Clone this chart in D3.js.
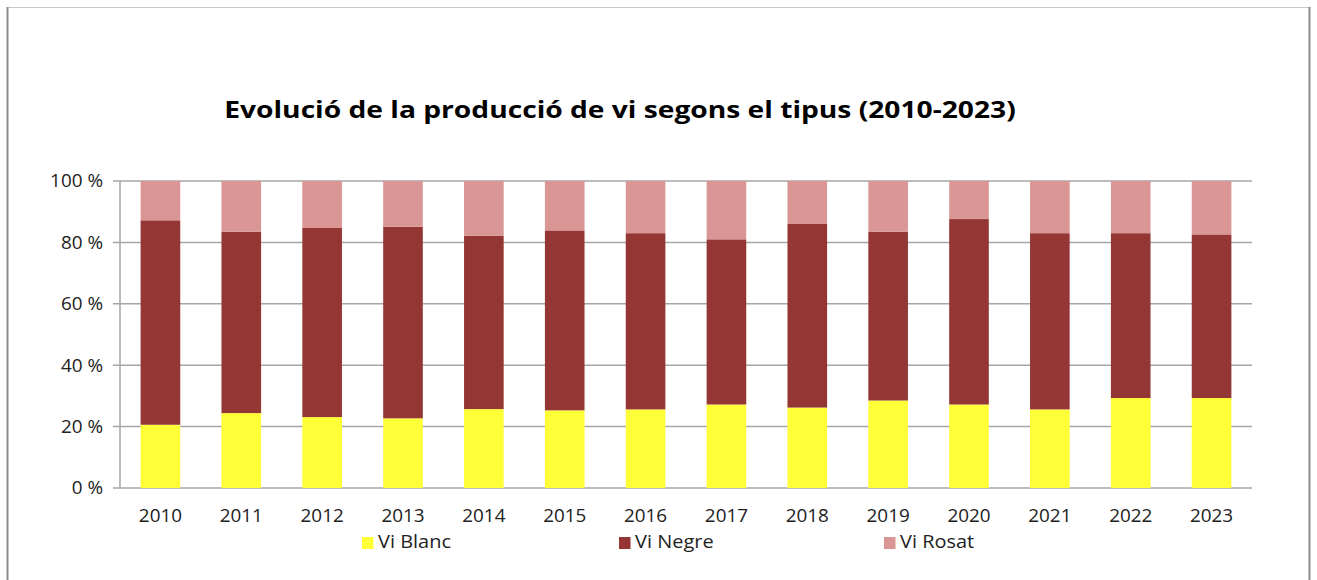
<!DOCTYPE html>
<html>
<head>
<meta charset="utf-8">
<script src="https://cdn.jsdelivr.net/npm/d3@7"></script>
<style>
  body { margin: 0; background: #fff; }
  svg text { font-family: "Open Sans", "Noto Sans", sans-serif; fill: #222; }
</style>
</head>
<body>
<div id="chart"></div>
<script>
const years = ["2010", "2011", "2012", "2013", "2014", "2015", "2016", "2017", "2018", "2019", "2020", "2021", "2022", "2023"];
const viBlanc = [20.6, 24.4, 23.1, 22.7, 25.7, 25.3, 25.6, 27.2, 26.2, 28.5, 27.2, 25.6, 29.3, 29.3];
const viNegre = [66.6, 59.1, 61.6, 62.4, 56.5, 58.6, 57.4, 53.8, 59.8, 55.0, 60.4, 57.4, 53.7, 53.3];
const viRosat = [12.8, 16.5, 15.3, 14.9, 17.8, 16.1, 17.0, 19.0, 14.0, 16.5, 12.4, 17.0, 17.0, 17.4];
const seriesNames = ["Vi Blanc", "Vi Negre", "Vi Rosat"];
const yTicks = [0, 20, 40, 60, 80, 100];

const colors = { "Vi Blanc": "#ffff38", "Vi Negre": "#943634", "Vi Rosat": "#d99694" };

const W = 1317, H = 580;
const margin = { top: 181, right: 65, bottom: 92, left: 120 };
const width = W - margin.left - margin.right;
const height = H - margin.top - margin.bottom;

// the source text is a bit wider than Open Sans, so stretch it sideways
const stretch = (x, y, s) => `translate(${x},${y}) scale(${s},1)`;

const svg = d3.select("#chart").append("svg")
  .attr("width", W)
  .attr("height", H);

// outer frame
svg.append("line").attr("x1", 7).attr("x2", 1310).attr("y1", 7.5).attr("y2", 7.5)
  .attr("stroke", "#c8c8c8").attr("stroke-width", 1);
svg.append("line").attr("x1", 7.5).attr("x2", 7.5).attr("y1", 7).attr("y2", H)
  .attr("stroke", "#8c8c8c").attr("stroke-width", 2);
svg.append("line").attr("x1", 1309.5).attr("x2", 1309.5).attr("y1", 7).attr("y2", H)
  .attr("stroke", "#8c8c8c").attr("stroke-width", 2);

svg.append("text")
  .attr("transform", stretch(620, 118, 1.2))
  .attr("text-anchor", "middle")
  .style("font-size", "23.5px")
  .style("font-weight", "bold")
  .style("fill", "#000")
  .text("Evolució de la producció de vi segons el tipus (2010-2023)");

const g = svg.append("g").attr("transform", `translate(${margin.left},${margin.top})`);

const data = years.map((y, i) => ({ year: y, "Vi Blanc": viBlanc[i], "Vi Negre": viNegre[i], "Vi Rosat": viRosat[i] }));
const stacked = d3.stack().keys(seriesNames)(data);

const x = d3.scaleBand().domain(years).range([0, width]).paddingInner(0.51).paddingOuter(0.255);
const y = d3.scaleLinear().domain([0, 100]).range([height, 0]);

// gridlines + left ticks
g.append("g")
  .selectAll("line")
  .data(yTicks)
  .join("line")
  .attr("x1", -7)
  .attr("x2", width)
  .attr("y1", d => y(d))
  .attr("y2", d => y(d))
  .attr("stroke", "#a6a6a6")
  .attr("stroke-width", 1.5);

g.append("g")
  .selectAll("g")
  .data(stacked)
  .join("g")
  .attr("fill", d => colors[d.key])
  .selectAll("rect")
  .data(d => d)
  .join("rect")
  .attr("x", d => x(d.data.year))
  .attr("y", d => y(d[1]))
  .attr("width", x.bandwidth())
  .attr("height", d => y(d[0]) - y(d[1]));

// y axis line
g.append("line")
  .attr("x1", 0).attr("x2", 0)
  .attr("y1", 0).attr("y2", height)
  .attr("stroke", "#a6a6a6")
  .attr("stroke-width", 1.5);

g.append("g")
  .selectAll("text")
  .data(yTicks)
  .join("text")
  .attr("transform", d => stretch(-17, y(d), 1.05))
  .attr("dy", "0.35em")
  .attr("text-anchor", "end")
  .style("font-size", "18px")
  .text(d => d + " %");

g.append("g")
  .selectAll("text")
  .data(years)
  .join("text")
  .attr("transform", d => stretch(x(d) + x.bandwidth() / 2, height + 34, 1.05))
  .attr("text-anchor", "middle")
  .style("font-size", "18px")
  .text(d => d);

// legend
const legendX = [362, 619, 884];
const legend = svg.append("g");
seriesNames.forEach((name, i) => {
  const lg = legend.append("g").attr("transform", `translate(${legendX[i]},537)`);
  lg.append("rect").attr("width", 11.5).attr("height", 12).attr("fill", colors[name]);
  lg.append("text").attr("transform", stretch(16, 10.5, 1.08)).style("font-size", "18.5px").text(name);
});
</script>
</body>
</html>
